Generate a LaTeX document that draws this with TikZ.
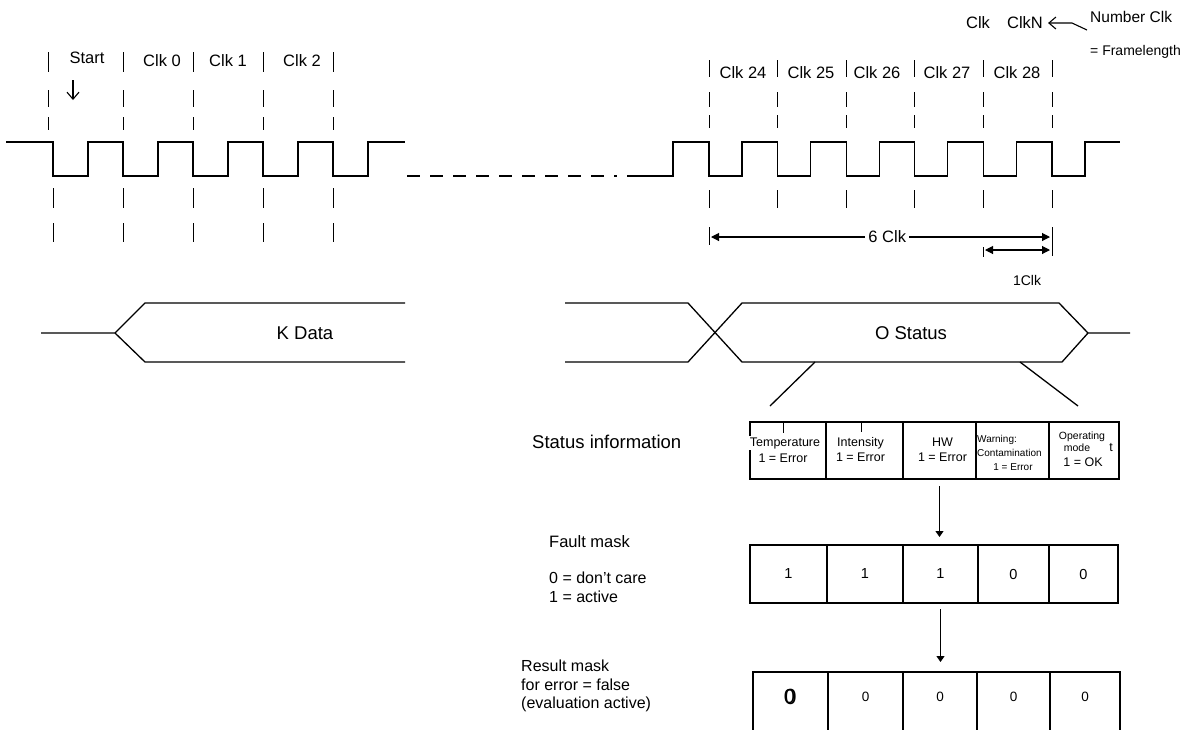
\documentclass[tikz,border=0pt]{standalone}
\usepackage{fontspec}
\setmainfont{Liberation Sans}
\usetikzlibrary{arrows.meta}
\newcommand{\fsz}[2]{\fontsize{#1}{#2}\selectfont}

\begin{document}
\begin{tikzpicture}[
        x=1pt, y=-1pt,
        wave/.style={line width=1.3pt, line join=miter},
        clkmark/.style={line width=1pt},
        lbl/.style={font=\fsz{16.5}{19}, inner sep=0pt},
        small/.style={font=\fsz{12.5}{15}, inner sep=0pt},
        cell/.style={draw, line width=1.3pt, anchor=north west, outer sep=0pt, inner sep=0pt},
        dimarr/.style={line width=1.1pt, {Triangle[length=8pt,width=8pt]}-{Triangle[length=8pt,width=8pt]}},
        flow/.style={line width=1.1pt, -{Triangle[length=6pt,width=8pt]}},
        barb/.style={line width=1.1pt, -{Straight Barb[length=7pt,width=12pt]}}
    ]
        \useasboundingbox (0,0) rectangle (1195,729);
        \clip (0,0) rectangle (1195,729);

        % clock, first frames
        \draw[wave] (6,142) \foreach \k in {0,...,4}{ -- ({53+70*\k},142) -- ({53+70*\k},176) -- ({88+70*\k},176) -- ({88+70*\k},142)} -- (405,142);
        \draw[wave, dash pattern=on 13pt off 10pt] (407,176) -- (617,176);
        % clock, last frames
        \draw[wave] (627,176) -- (673,176) -- (673,142) \foreach \k in {0,...,5}{ -- ({709+68.6*\k},142) -- ({709+68.6*\k},176) -- ({742+68.6*\k},176) -- ({742+68.6*\k},142)} -- (1120,142);

        \foreach \x in {48,123,193,263,333} \foreach \ya/\yb in {52/72,90/107,117/130} \draw[clkmark] (\x,\ya) -- (\x,\yb);
        \foreach \x in {53,123,193,263,333} \foreach \ya/\yb in {188/208,223/242} \draw[clkmark] (\x,\ya) -- (\x,\yb);
        \foreach \x in {709,777.6,846.2,914.8,983.4,1052} \foreach \ya/\yb in {60/77,92/107,115/128,190/208} \draw[clkmark] (\x,\ya) -- (\x,\yb);

        \node[lbl] (start) at (87,58) {Start};
        \node[lbl] (clk0) at (162,61) {Clk 0};
        \node[lbl] (clk1) at (228,61) {Clk 1};
        \node[lbl] (clk2) at (302,61) {Clk 2};
        \coordinate (t0) at (73,100);
        \draw[barb] (73,80) -- (t0);

        \node[lbl] (clk24) at (743,73) {Clk 24};
        \node[lbl] (clk25) at (811,73) {Clk 25};
        \node[lbl] (clk26) at (877,73) {Clk 26};
        \node[lbl] (clk27) at (947,73) {Clk 27};
        \node[lbl] (clk28) at (1017,73) {Clk 28};

        \node[lbl] (clk) at (978,23) {Clk};
        \node[lbl] (clkn) at (1025,23) {ClkN};
        \node[font=\fsz{15.5}{18}, anchor=west, inner sep=0pt] (numclk) at (1090,17) {Number Clk};
        \node[font=\fsz{14}{17}, anchor=west, inner sep=0pt] (frame) at (1090,52) {= Framelength};
        \coordinate (nc) at (1087,30);
        \draw[barb] (nc) -- (1072,23) -- ([xshift=5pt]clkn.east);

        % frame length
        \draw[clkmark] (709,227) -- (709,245);
        \draw[clkmark] (1052,227) -- (1052,256);
        \draw[dimarr] (711,237) -- node[lbl, pos=0.52, fill=white, inner sep=3pt] (sixclk) {6 Clk} (1050,237);
        \draw[clkmark] (983.4,247) -- (983.4,257);
        \draw[dimarr] (985,250) -- (1050,250);
        \node[font=\fsz{14}{17}, inner sep=0pt] (oneclk) at (1027,280) {1Clk};

        % data line
        \draw[wave] (41,333) -- (115,333) -- (145,303) -- (405,303);
        \draw[wave] (115,333) -- (145,362) -- (405,362);
        \node[font=\fsz{18.5}{22}, inner sep=0pt] (kdata) at (305,333) {K Data};
        \draw[wave] (565,303) -- (688,303) -- (742,362) -- (1062,362) -- (1088,333) -- (1130,333);
        \draw[wave] (565,362) -- (688,362) -- (742,303) -- (1059,303) -- (1088,333);
        \node[font=\fsz{18.5}{22}, inner sep=0pt] (ostatus) at (911,333) {O Status};
        \draw[wave] (815,362) -- (770,406);
        \draw[wave] (1020,362) -- (1078,406);

        % status word
        \node[font=\fsz{18.5}{22}, anchor=west, inner sep=0pt] (statinfo) at (532,442) {Status information};
        \foreach \i/\xa/\xb in {1/750/826,2/826/903,3/903/976,4/976/1049,5/1049/1119}
            \node[cell, minimum width={(\xb-\xa)*1pt}, minimum height=57pt] (st\i) at (\xa,422) {};
        \draw[line width=0.9pt] (783,422) -- (783,433);
        \draw[line width=0.9pt] (861,422) -- (861,432);
        \node[small, fill=white, inner sep=1pt] (temp) at (785,443) {Temperature};
        \node[small] (tempval) at (783,458) {1 = Error};
        \node[small, align=center] (inten) at (860.5,450) {Intensity\\1 = Error};
        \node[small, align=center] (hw) at (942.5,450) {HW\\1 = Error};
        \node[font=\fsz{10}{14}, anchor=west, align=left, inner sep=0pt] (warn) at (977,446) {Warning:\\Contamination};
        \node[font=\fsz{10}{12}, inner sep=0pt] (warnval) at (1013,467) {1 = Error};
        \node[font=\fsz{10.5}{12}, inner sep=0pt] (oper) at (1082,437) {Operating};
        \node[font=\fsz{10.5}{12}, inner sep=0pt] (mode) at (1077,448) {mode};
        \node[small] (opval) at (1083,462) {1 = OK};
        \node[small] (stray) at (1111,447) {t};

        % fault mask
        \node[lbl, anchor=west] (fmtitle) at (549,542) {Fault mask};
        \node[font=\fsz{16}{19}, anchor=west, align=left, inner sep=0pt] (fmkey) at (549,587.5) {0 = don’t care\\1 = active};
        \foreach \i/\xa/\xb/\v in {1/750/827/1,2/827/903/1,3/903/978/1,4/978/1049/0,5/1049/1118/0}
            \node[cell, minimum width={(\xb-\xa)*1pt}, minimum height=58pt, font=\fsz{14.5}{17}] (fm\i) at (\xa,545) {\v};

        % result mask
        \node[font=\fsz{16}{18.5}, anchor=west, align=left, inner sep=0pt] (rmtitle) at (521,686) {Result mask\\for error = false\\(evaluation active)};
        \foreach \i/\xa/\xb in {1/753/828,2/828/903,3/903/977,4/977/1050,5/1050/1120}
            \node[cell, minimum width={(\xb-\xa)*1pt}, minimum height=62pt] (rm\i) at (\xa,672) {};
        \node[font=\fsz{22}{24}, inner sep=0pt] (rmbig) at (790.5,697) {0};
        \node[font=\fsz{20}{24}, inner sep=0pt] (rmbigb) at (789.5,697) {0};
        \foreach \i in {2,...,5}
            \node[font=\fsz{13.5}{16}, inner sep=0pt] (rmv\i) at (rm\i.center |- 0,697) {0};

        \draw[flow, shorten <=7pt, shorten >=8pt] (st3.south) -- (st3.south |- fm3.north);
        \draw[flow, shorten <=6pt, shorten >=10pt] (fm3.south) -- (fm3.south |- rm3.north);
    \end{tikzpicture}
\end{document}
